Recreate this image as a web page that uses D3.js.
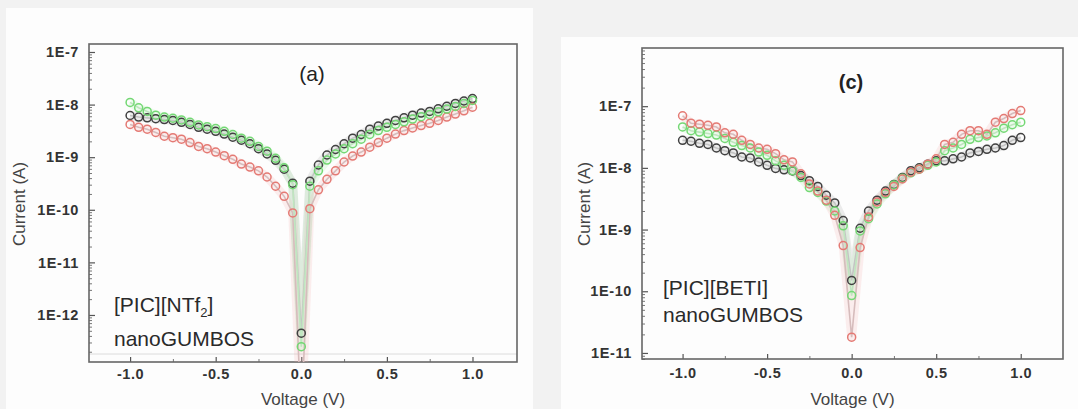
<!DOCTYPE html>
<html><head><meta charset="utf-8">
<script src="https://cdn.jsdelivr.net/npm/d3@7/dist/d3.min.js"></script>
<style>
html,body{margin:0;padding:0;background:#f2f2f2;}
svg{display:block;font-family:"Liberation Sans",Arial,sans-serif;}
</style></head>
<body>
<svg id="chart" width="1078" height="409"></svg>
<script>
// ---------- data ----------
const voltage = [-1.00,-0.95,-0.90,-0.85,-0.80,-0.75,-0.70,-0.65,-0.60,-0.55,-0.50,-0.45,-0.40,-0.35,-0.30,-0.25,-0.20,-0.15,-0.10,-0.05,
  0.00,0.05,0.10,0.15,0.20,0.25,0.30,0.35,0.40,0.45,0.50,0.55,0.60,0.65,0.70,0.75,0.80,0.85,0.90,0.95,1.00];

// panel (a) [PIC][NTf2]
const aBlack = [6.2e-9,5.8e-9,5.6e-9,5.4e-9,5.2e-9,5.0e-9,4.6e-9,4.2e-9,3.7e-9,3.4e-9,3.1e-9,2.75e-9,2.4e-9,2.1e-9,1.8e-9,1.45e-9,1.15e-9,8.7e-10,5.9e-10,3.2e-10,
  4.5e-13,3.5e-10,7.1e-10,1.1e-9,1.4e-9,1.8e-9,2.3e-9,2.7e-9,3.4e-9,3.9e-9,4.4e-9,5.0e-9,5.6e-9,6.3e-9,6.9e-9,7.4e-9,8.3e-9,9.3e-9,1.05e-8,1.17e-8,1.3e-8];
const aRed = [4.2e-9,3.7e-9,3.4e-9,2.95e-9,2.5e-9,2.35e-9,2.2e-9,1.9e-9,1.6e-9,1.45e-9,1.25e-9,1.07e-9,9.1e-10,7.4e-10,6.5e-10,5.5e-10,4.2e-10,2.8e-10,1.8e-10,8.7e-11,
  1e-14,1.05e-10,2.4e-10,3.8e-10,5.5e-10,8.1e-10,1.05e-9,1.25e-9,1.55e-9,1.9e-9,2.3e-9,2.75e-9,3.2e-9,3.6e-9,4.0e-9,4.4e-9,5.0e-9,5.8e-9,6.6e-9,7.6e-9,8.9e-9];
const aGreen = [1.1e-8,8.7e-9,7.4e-9,6.3e-9,5.8e-9,5.5e-9,5.1e-9,4.6e-9,4.1e-9,3.8e-9,3.5e-9,3.1e-9,2.7e-9,2.3e-9,2.0e-9,1.6e-9,1.3e-9,9.5e-10,6.3e-10,3.0e-10,
  2.5e-13,2.8e-10,5.5e-10,8.8e-10,1.15e-9,1.45e-9,1.8e-9,2.2e-9,2.7e-9,3.2e-9,3.7e-9,4.2e-9,4.7e-9,5.3e-9,5.9e-9,6.5e-9,7.3e-9,8.2e-9,9.2e-9,1.05e-8,1.2e-8];

// panel (c) [PIC][BETI]
const cBlack = [2.8e-8,2.7e-8,2.5e-8,2.4e-8,2.1e-8,1.9e-8,1.75e-8,1.5e-8,1.45e-8,1.25e-8,1.1e-8,9.8e-9,9.3e-9,8.9e-9,7.5e-9,6.2e-9,5.0e-9,3.6e-9,2.7e-9,1.4e-9,
  1.5e-10,1.05e-9,2.0e-9,3.0e-9,4.2e-9,5.4e-9,7.0e-9,9.0e-9,1.0e-8,1.15e-8,1.3e-8,1.3e-8,1.4e-8,1.5e-8,1.75e-8,1.85e-8,2.0e-8,2.1e-8,2.3e-8,2.8e-8,3.1e-8];
const cRed = [7.0e-8,5.3e-8,5.1e-8,4.9e-8,4.6e-8,3.7e-8,3.5e-8,2.8e-8,2.4e-8,2.1e-8,2.0e-8,1.7e-8,1.35e-8,1.25e-8,8.0e-9,5.5e-9,4.2e-9,3.0e-9,1.7e-9,5.5e-10,
  1.8e-11,5.1e-10,1.6e-9,2.8e-9,4.0e-9,5.0e-9,6.6e-9,8.5e-9,9.5e-9,1.15e-8,1.4e-8,2.4e-8,2.6e-8,3.5e-8,4.0e-8,4.0e-8,3.5e-8,5.5e-8,6.3e-8,7.6e-8,8.5e-8];
const cGreen = [4.6e-8,4.0e-8,3.8e-8,3.6e-8,3.4e-8,3.0e-8,2.6e-8,2.3e-8,2.1e-8,1.8e-8,1.6e-8,1.3e-8,1.1e-8,9.0e-9,7.0e-9,4.8e-9,4.0e-9,2.9e-9,2.0e-9,1.15e-9,
  8.5e-11,9.5e-10,1.5e-9,2.6e-9,3.8e-9,5.3e-9,6.8e-9,8.3e-9,9.5e-9,1.1e-8,1.25e-8,1.9e-8,2.1e-8,2.4e-8,2.9e-8,3.1e-8,3.3e-8,3.7e-8,4.4e-8,5.0e-8,5.5e-8];

const xTicks = [-1.0,-0.5,0.0,0.5,1.0];
const xMinorTicks = [-0.75,-0.25,0.25,0.75];
const aYTicks = [1e-7,1e-8,1e-9,1e-10,1e-11,1e-12];
const cYTicks = [1e-7,1e-8,1e-9,1e-10,1e-11];
const xTitle = "Voltage (V)";
const yTitle = "Current (A)";

// ---------- drawing ----------
const svg = d3.select("#chart");
const colors = {black:"#404040", red:"#e47a74", green:"#74d874"};
const glowColors = {black:"#9a9a9a", red:"#f3a8a4", green:"#9ff09f"};
const lineColors = {black:"#c4c4c4", red:"#d6bcbc", green:"#bfe6bf"};

function panel(cfg){
  const g = svg.append("g");
  g.append("rect").attr("x",cfg.bg[0]).attr("y",cfg.bg[1]).attr("width",cfg.bg[2]).attr("height",cfg.bg[3]).attr("fill","#fdfdfd");
  const x = d3.scaleLinear().domain(cfg.xDomain).range([cfg.left,cfg.right]);
  const y = d3.scaleLog().domain(cfg.yDomain).range([cfg.bottom,cfg.top]);
  const clipId = "clip"+cfg.id;
  svg.append("clipPath").attr("id",clipId).append("rect")
    .attr("x",cfg.left).attr("y",cfg.top).attr("width",cfg.right-cfg.left).attr("height",cfg.bottom-cfg.top);

  if(cfg.baseline){
    g.append("line").attr("x1",cfg.left).attr("x2",cfg.right).attr("y1",cfg.baseline).attr("y2",cfg.baseline)
      .attr("stroke","#dcdcdc").attr("stroke-width",1);
  }

  // minor y ticks
  const minor = [];
  const [lo,hi] = cfg.yDomain;
  for(let e=Math.floor(Math.log10(lo)); e<=Math.ceil(Math.log10(hi)); e++){
    for(let m=2;m<=9;m++){ const v=m*Math.pow(10,e); if(v>=lo&&v<=hi) minor.push(v); }
  }
  g.append("g").attr("transform",`translate(${cfg.left},0)`)
    .call(d3.axisLeft(y).tickValues(minor).tickSize(-3).tickFormat(""))
    .call(s=>{s.select(".domain").remove(); s.selectAll("line").attr("stroke","#777");});
  g.append("g").attr("transform",`translate(${cfg.left},0)`)
    .call(d3.axisLeft(y).tickValues(cfg.yTicks).tickSize(-6).tickPadding(10)
      .tickFormat(d=>"1E"+Math.round(Math.log10(d))))
    .call(s=>{s.select(".domain").remove();
      s.selectAll("line").attr("stroke","#555").attr("stroke-width",1.2);
      s.selectAll("text").attr("font-family","Liberation Sans, Arial, sans-serif").attr("font-size",14.5).attr("font-weight","bold")
        .attr("fill","#333").attr("letter-spacing","0.6px");});
  // x axis
  g.append("g").attr("transform",`translate(0,${cfg.bottom})`)
    .call(d3.axisBottom(x).tickValues(xMinorTicks).tickSize(-3).tickFormat(""))
    .call(s=>{s.select(".domain").remove(); s.selectAll("line").attr("stroke","#777");});
  g.append("g").attr("transform",`translate(0,${cfg.bottom})`)
    .call(d3.axisBottom(x).tickValues(xTicks).tickSize(-5).tickPadding(cfg.xPad).tickFormat(d=>d.toFixed(1)))
    .call(s=>{s.select(".domain").remove();
      s.selectAll("line").attr("stroke","#555").attr("stroke-width",1.2);
      s.selectAll("text").attr("font-family","Liberation Sans, Arial, sans-serif").attr("font-size",14.5).attr("font-weight","bold")
        .attr("fill","#333").attr("letter-spacing","0.6px");});

  // frame
  g.append("rect").attr("x",cfg.left).attr("y",cfg.top).attr("width",cfg.right-cfg.left).attr("height",cfg.bottom-cfg.top)
    .attr("fill","none").attr("stroke","#666").attr("stroke-width",1.6);

  // series
  const plot = g.append("g").attr("clip-path",`url(#${clipId})`);
  const line = d3.line().x((d,i)=>x(voltage[i])).y(d=>y(d));
  // soft coloured halo along each branch
  cfg.series.forEach(s=>{
    plot.append("path").datum(s.values).attr("d",line).attr("fill","none")
      .attr("stroke",glowColors[s.color]).attr("stroke-width",9).attr("stroke-opacity",0.18)
      .attr("stroke-linejoin","round");
  });
  cfg.series.forEach(s=>{
    plot.append("path").datum(s.values).attr("d",line).attr("fill","none")
      .attr("stroke",lineColors[s.color]).attr("stroke-width",1.6);
  });
  cfg.series.forEach(s=>{
    plot.append("g").selectAll("circle").data(s.values).join("circle")
      .attr("cx",(d,i)=>x(voltage[i])).attr("cy",d=>y(d)).attr("r",4)
      .attr("fill","none").attr("stroke",colors[s.color]).attr("stroke-width",1.5);
  });

  // titles
  g.append("text").attr("x",(cfg.left+cfg.right)/2).attr("y",cfg.xTitleY).attr("text-anchor","middle")
    .attr("font-size",17).attr("fill","#444").text(xTitle);
  g.append("text").attr("transform",`translate(${cfg.yTitleX},${cfg.yTitleY}) rotate(-90)`).attr("text-anchor","middle")
    .attr("font-size",17).attr("fill","#444").text(yTitle);
  g.append("text").attr("x",cfg.label[0]).attr("y",cfg.label[1]).attr("text-anchor","middle")
    .attr("font-size",cfg.label[2]).attr("font-weight",cfg.label[3]).attr("fill","#222").text(cfg.label[4]);
  const ann = g.append("text").attr("x",cfg.ann[0]).attr("y",cfg.ann[1]).attr("font-size",21).attr("fill","#2a2a2a");
  cfg.annLine1(ann);
  g.append("text").attr("x",cfg.ann[0]).attr("y",cfg.ann[2]).attr("font-size",21).attr("fill","#2a2a2a").text("nanoGUMBOS");
  return {x,y};
}

panel({
  id:"a", bg:[6,8,527,401],
  left:89, right:517, top:44, bottom:362,
  xDomain:[-1.24,1.26], yDomain:[1.276e-13,1.419e-7],
  yTicks:aYTicks, xPad:7, baseline:354,
  xTitleY:405, yTitleX:25, yTitleY:204,
  label:[312,81,21,"normal","(a)"],
  ann:[114,312,346],
  annLine1:t=>{ t.append("tspan").text("[PIC][NTf");
    t.append("tspan").attr("font-size",13).attr("dy",5).text("2");
    t.append("tspan").attr("dy",-5).text("]"); },
  series:[{color:"black",values:aBlack},{color:"red",values:aRed},{color:"green",values:aGreen}]
});

panel({
  id:"c", bg:[561,37,517,372],
  left:642, right:1063, top:48, bottom:359,
  xDomain:[-1.24,1.25], yDomain:[7.98e-12,8.77e-7],
  yTicks:cYTicks, xPad:9, baseline:null,
  xTitleY:405, yTitleX:590, yTitleY:204,
  label:[851,89,20,"bold","(c)"],
  ann:[663,295,322],
  annLine1:t=>{ t.text("[PIC][BETI]"); },
  series:[{color:"black",values:cBlack},{color:"green",values:cGreen},{color:"red",values:cRed}]
});
</script>
</body></html>
